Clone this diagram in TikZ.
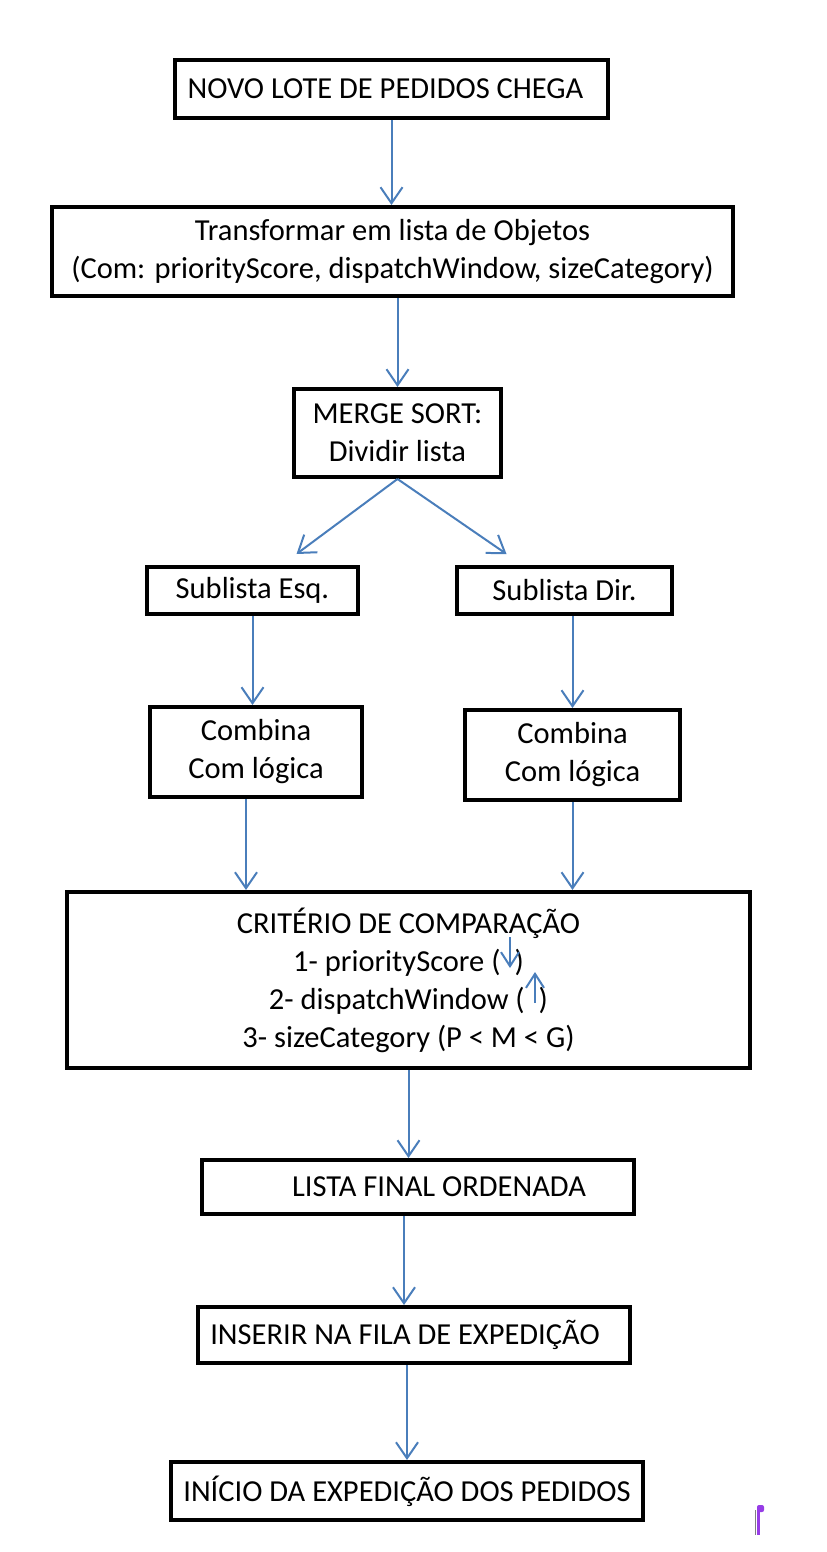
\documentclass[tikz,border=0pt]{standalone}
\usepackage{fontspec}
\setmainfont{Carlito}
\usetikzlibrary{arrows.meta}
\definecolor{arrowblue}{RGB}{74,126,187}
\definecolor{markpurple}{RGB}{150,60,230}

\tikzstyle{box} = [draw,line width=2pt,inner sep=0pt,align=center,font=\fontsize{15.25}{19}\selectfont]
\tikzstyle{arrowdecorate} = [draw=arrowblue,line width=1pt,-{Straight Barb[length=8pt,width=11pt]}]
\tikzstyle{smallarrow} = [draw=arrowblue,line width=1pt,-{Straight Barb[length=7pt,width=9pt]}]

\begin{document}
\begin{tikzpicture}[x=0.5pt,y=-0.5pt]
    \useasboundingbox (0,0) rectangle (826,1552);
    %% boxes
    \foreach \nodename/\x/\y/\w/\h/\boxtext in {
      novo/391.5/89/433/58/{NOVO LOTE DE PEDIDOS CHEGA\hspace{6pt}},
      transf/392.5/251.5/681/89/{Transformar em lista de Objetos\\(Com: priorityScore, dispatchWindow, sizeCategory)},
      merge/397.5/433/207/88/{MERGE SORT:\\Dividir lista},
      esq/252.5/590.5/211/47/{Sublista Esq.},
      dir/564.5/590.5/215/47/{Sublista Dir.},
      combesq/256/752/212/90/{Combina\\Com lógica},
      combdir/572.5/755/215/90/{Combina\\Com lógica},
      crit/408.5/980/683/176/{CRITÉRIO DE COMPARAÇÃO\\1- priorityScore (\hspace{7pt})\\2- dispatchWindow (\hspace{7pt})\\3- sizeCategory (P < M < G)},
      lista/418/1187/432/54/{\hspace{21pt}LISTA FINAL ORDENADA},
      inserir/414/1335/432/56/{INSERIR NA FILA DE EXPEDIÇÃO\hspace{9pt}},
      inicio/407/1491/472/58/{INÍCIO DA EXPEDIÇÃO DOS PEDIDOS}}
    {
      \node[box, minimum width=\w*0.5pt, minimum height=\h*0.5pt] (\nodename) at (\x,\y) {\boxtext};
    }
    %% flow arrows
    \path
      (novo.south) edge[arrowdecorate] (novo.south |- transf.north)
      (merge.north |- transf.south) edge[arrowdecorate] (merge.north)
      (merge.south) edge[arrowdecorate] ([xshift=22pt,yshift=5.5pt]esq.north)
      (merge.south) edge[arrowdecorate] ([xshift=-29pt,yshift=5.5pt]dir.north)
      (esq.south) edge[arrowdecorate] (esq.south |- combesq.north)
      (combdir.north |- dir.south) edge[arrowdecorate] (combdir.north)
      ([xshift=-5pt]combesq.south) edge[arrowdecorate] ([xshift=-5pt]combesq.south |- crit.north)
      (combdir.south) edge[arrowdecorate] (combdir.south |- crit.north)
      (crit.south) edge[arrowdecorate] (crit.south |- lista.north)
      ([xshift=-5pt]inserir.north |- lista.south) edge[arrowdecorate] ([xshift=-5pt]inserir.north)
      (inicio.north |- inserir.south) edge[arrowdecorate] (inicio.north);
    %% little order arrows inside the criteria box
    \coordinate (downtop) at (510,937);
    \coordinate (downtip) at (510,968);
    \coordinate (uptail) at (535,1003);
    \coordinate (uptip) at (535,972);
    \draw[smallarrow] (downtop) -- (downtip);
    \draw[smallarrow] (uptail) -- (uptip);
    %% purple mark
    \draw[gray,line width=0.5pt] (755.5,1510) -- (755.5,1535);
    \fill[markpurple] (757,1507) rectangle (760,1535);
    \fill[markpurple,rounded corners=1pt] (757,1505) rectangle (764,1512);
\end{tikzpicture}
\end{document}
